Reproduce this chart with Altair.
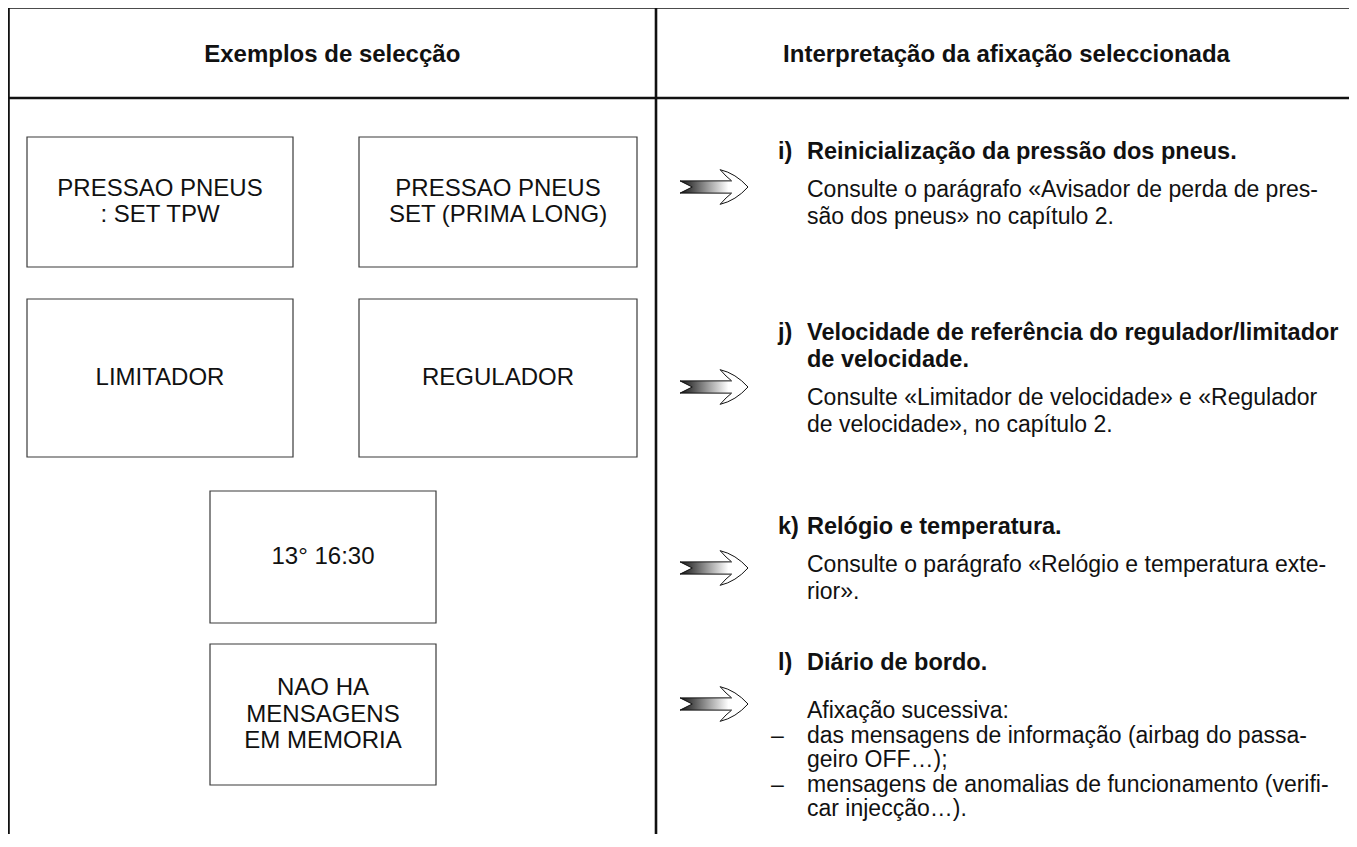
import altair as alt
import pandas as pd

# ---------------- content ----------------
header_texts = ["Exemplos de selecção", "Interpretação da afixação seleccionada"]

box_texts = [
    ["PRESSAO PNEUS", ": SET TPW"],
    ["PRESSAO PNEUS", "SET (PRIMA LONG)"],
    ["LIMITADOR"],
    ["REGULADOR"],
    ["13° 16:30"],
    ["NAO HA", "MENSAGENS", "EM MEMORIA"],
]

section_tags = ["i)", "j)", "k)", "l)"]
section_titles = [
    ["Reinicialização da pressão dos pneus."],
    ["Velocidade de referência do regulador/limitador", "de velocidade."],
    ["Relógio e temperatura."],
    ["Diário de bordo."],
]
section_bodies = [
    ["Consulte o parágrafo «Avisador de perda de pres-",
     "são dos pneus» no capítulo 2."],
    ["Consulte «Limitador de velocidade» e «Regulador",
     "de velocidade», no capítulo 2."],
    ["Consulte o parágrafo «Relógio e temperatura exte-",
     "rior»."],
    ["Afixação sucessiva:",
     "das mensagens de informação (airbag do passa-",
     "geiro OFF…);",
     "mensagens de anomalias de funcionamento (verifi-",
     "car injecção…)."],
]
section_dashes = [
    [False, False],
    [False, False],
    [False, False],
    [False, True, False, True, False],
]

# ---------------- layout (page pixels) ----------------
W, H = 1341, 826
PAGE_X0, PAGE_Y0 = 8, 8
tbl_left, tbl_right, tbl_top, hdr_bottom, tbl_bottom, col_split = 8.5, 1357, 7.5, 98, 847, 656
header_y = 55
header_cx = [(tbl_left + col_split) / 2, (col_split + tbl_right) / 2]

box_x0 = [27, 359, 27, 359, 210, 210]
box_x1 = [293, 637, 293, 637, 436, 436]
box_y0 = [137, 137, 299, 299, 491, 644]
box_y1 = [267, 267, 457, 457, 623, 785]
box_step = 26.5

tag_x, text_x, dash_x = 778, 807, 771
heading_y = [152, 333, 527, 663]
title_step = 27
body_y0 = [190, 398, 565, 711]
body_step = [27, 27, 27, 24.5]
arrow_x = 714
arrow_y = [187, 387, 568, 704]
arrow_size = 68 ** 2

FONT = "Liberation Sans"
INK = "#111111"

# ---------------- tables ----------------
lines_df = pd.DataFrame({
    "x": [tbl_left - 1.5, tbl_left - 1.5, tbl_left, col_split],
    "x2": [tbl_right, tbl_right, tbl_left, col_split],
    "y": [tbl_top, hdr_bottom, tbl_top - 1, tbl_top - 1],
    "y2": [tbl_top, hdr_bottom, tbl_bottom, tbl_bottom],
})

hdr_df = pd.DataFrame({"x": header_cx, "y": [header_y, header_y], "t": header_texts})

boxes_df = pd.DataFrame({"x": box_x0, "x2": box_x1, "y": box_y0, "y2": box_y1})

box_rows = []
for i, lines in enumerate(box_texts):
    cx = (box_x0[i] + box_x1[i]) / 2
    cy = (box_y0[i] + box_y1[i]) / 2
    n = len(lines)
    for k, t in enumerate(lines):
        box_rows.append({"x": cx, "y": cy + (k - (n - 1) / 2) * box_step, "t": t})
box_df = pd.DataFrame(box_rows)

tag_rows, title_rows, body_rows, dash_rows = [], [], [], []
for s in range(len(section_tags)):
    y = heading_y[s]
    tag_rows.append({"x": tag_x, "y": y, "t": section_tags[s]})
    for k, t in enumerate(section_titles[s]):
        title_rows.append({"x": text_x, "y": y + k * title_step, "t": t})
    for k, t in enumerate(section_bodies[s]):
        yy = body_y0[s] + k * body_step[s]
        body_rows.append({"x": text_x, "y": yy, "t": t})
        if section_dashes[s][k]:
            dash_rows.append({"x": dash_x, "y": yy, "t": "–"})
tag_df = pd.DataFrame(tag_rows)
title_df = pd.DataFrame(title_rows)
body_df = pd.DataFrame(body_rows + dash_rows)

arrow_df = pd.DataFrame({"x": [arrow_x] * len(arrow_y), "y": arrow_y})

# ---------------- scales ----------------
xs = alt.Scale(domain=[PAGE_X0, PAGE_X0 + W], nice=False, zero=False)
ys = alt.Scale(domain=[PAGE_Y0, PAGE_Y0 + H], nice=False, zero=False, reverse=True)


def X(f="x"):
    return alt.X(f"{f}:Q", scale=xs, axis=None)


def Y(f="y"):
    return alt.Y(f"{f}:Q", scale=ys, axis=None)


rules = alt.Chart(lines_df).mark_rule(color=INK, strokeWidth=2.6).encode(
    x=X(), x2="x2:Q", y=Y(), y2="y2:Q")

rects = alt.Chart(boxes_df).mark_rect(fill="white", stroke="#3a3a3a", strokeWidth=1.2).encode(
    x=X(), x2="x2:Q", y=Y(), y2="y2:Q")

hdr = alt.Chart(hdr_df).mark_text(font=FONT, fontSize=24, fontWeight="bold", color=INK,
                                  align="center", baseline="middle").encode(x=X(), y=Y(), text="t:N")

btxt = alt.Chart(box_df).mark_text(font=FONT, fontSize=24, color=INK,
                                   align="center", baseline="middle").encode(x=X(), y=Y(), text="t:N")

tags = alt.Chart(tag_df).mark_text(font=FONT, fontSize=23.5, fontWeight="bold", color=INK,
                                   align="left", baseline="middle").encode(x=X(), y=Y(), text="t:N")

titles = alt.Chart(title_df).mark_text(font=FONT, fontSize=23.5, fontWeight="bold", color=INK,
                                       align="left", baseline="middle").encode(x=X(), y=Y(), text="t:N")

body = alt.Chart(body_df).mark_text(font=FONT, fontSize=23, color=INK,
                                    align="left", baseline="middle").encode(x=X(), y=Y(), text="t:N")

SHAFT = "M -1 -0.18 L 0.62 -0.18 L 0.62 0.18 L -1 0.18 L -0.64 0 Z"
HEAD = ("M 0.52 -0.18 Q 0.36 -0.3 0.18 -0.51 Q 0.64 -0.4 1 0 "
        "Q 0.64 0.4 0.18 0.51 Q 0.36 0.3 0.52 0.18")

grad = alt.LinearGradient(
    gradient="linear",
    stops=[alt.GradientStop(color="#151515", offset=0),
           alt.GradientStop(color="#555555", offset=0.25),
           alt.GradientStop(color="#a8a8a8", offset=0.55),
           alt.GradientStop(color="#ffffff", offset=0.88)],
    x1=0, x2=1, y1=0, y2=0)

shaft = alt.Chart(arrow_df).mark_point(shape=SHAFT, size=arrow_size, filled=True, fill=grad,
                                       stroke=INK, strokeWidth=1, opacity=1).encode(x=X(), y=Y())
head = alt.Chart(arrow_df).mark_point(shape=HEAD, size=arrow_size, filled=True, fill="white",
                                      stroke=INK, strokeWidth=1, opacity=1).encode(x=X(), y=Y())

chart = alt.layer(rules, rects, hdr, btxt, tags, titles, body, shaft, head).properties(
    width=W, height=H, padding=0, background="white",
    autosize=alt.AutoSizeParams(type="none"),
).configure_view(stroke=None)

chart.save("out.html", embed_options={"renderer": "svg", "actions": False})
